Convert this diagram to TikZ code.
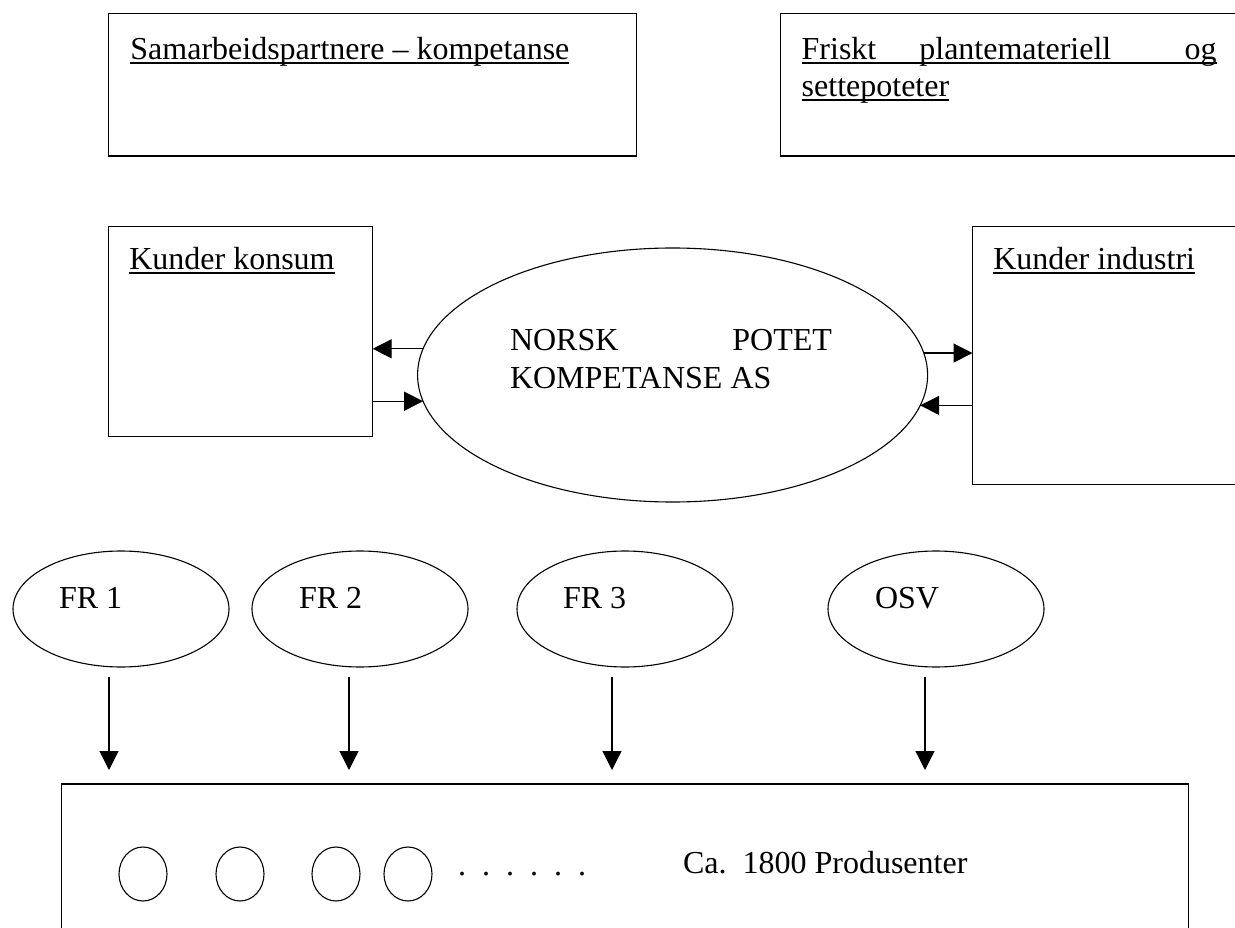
\documentclass[tikz,border=0pt]{standalone}
\usepackage{fontspec}
\setmainfont{Liberation Serif}
\usetikzlibrary{shapes.geometric,arrows.meta,calc}
\newcommand\ulx[1]{\setbox0=\hbox{#1}\rlap{\rule[-3.6pt]{\wd0}{2pt}}\box0}
\begin{document}
\begin{tikzpicture}[x=1pt,y=-1pt,
  box/.style={draw, line width=1.4pt, rectangle, inner sep=0, outer sep=0, anchor=north west},
  oval/.style={draw, line width=1.1pt, ellipse, inner sep=0, outer sep=0},
  lbl/.style={anchor=base west, inner sep=0, outer sep=0, font=\fontsize{32pt}{37pt}\selectfont},
  arr/.style={line width=1.3pt, -{Triangle[length=19pt,width=19pt]}}]
\useasboundingbox (0,0) rectangle (1235,928);
\clip (0,0) rectangle (1235,928);

% top boxes
\node[box, minimum width=528pt, minimum height=142.7pt] (sam) at (108.6,13.3) {};
\node[lbl] (samt) at (130.4,60) {\ulx{Samarbeidspartnere – kompetanse}};

\node[box, minimum width=480pt, minimum height=142.7pt] (fri) at (780.7,13.3) {};
\node[lbl] (frit1) at (801.7,60) {\ulx{\hbox to 415pt{Friskt\hskip 43pt plantemateriell\hfill og}}};
\node[lbl] (frit2) at (801.7,97) {\ulx{settepoteter}};

% customer boxes
\node[box, minimum width=264.1pt, minimum height=210pt] (kk) at (108.6,226.7) {};
\node[lbl] (kkt) at (129.3,270) {\ulx{Kunder konsum}};
\node[box, minimum width=300pt, minimum height=257.6pt] (ki) at (972.5,226.7) {};
\node[lbl] (kit) at (993.3,270) {\ulx{Kunder industri}};

% central ellipse
\node[oval, minimum width=510pt, minimum height=254pt] (np) at (672.6,375) {};
\node[lbl] (npt1) at (510,350) {\hbox to 322pt{NORSK\hfill POTET}};
\node[lbl] (npt2) at (510,388) {KOMPETANSE AS};

\draw[arr] (np.174.76) -- (kk.east |- np.174.76);
\draw[arr] (kk.east |- np.186.42) -- (np.186.42);
\draw[arr] (np.5.24) -- (ki.west |- np.5.24);
\draw[arr] (ki.west |- np.353.58) -- (np.353.58);

% FR ellipses
\node[oval, minimum width=216pt, minimum height=116pt] (fr1) at (121,609) {};
\node[oval, minimum width=216pt, minimum height=116pt] (fr2) at (360,609) {};
\node[oval, minimum width=216pt, minimum height=116pt] (fr3) at (625,609) {};
\node[oval, minimum width=216pt, minimum height=116pt] (osv) at (936,609) {};
\node[lbl] (fr1t) at (59,608) {FR 1};
\node[lbl] (fr2t) at (299,608) {FR 2};
\node[lbl] (fr3t) at (563,608) {FR 3};
\node[lbl] (osvt) at (875,608) {OSV};

% producers box
\node[box, minimum width=1127pt, minimum height=200pt] (prod) at (61.5,784) {};
\node[oval, minimum width=48pt, minimum height=54pt] (c1) at (143,874) {};
\node[oval, minimum width=48pt, minimum height=54pt] (c2) at (240,874) {};
\node[oval, minimum width=48pt, minimum height=54pt] (c3) at (336,874) {};
\node[oval, minimum width=48pt, minimum height=54pt] (c4) at (408,874) {};
\node[lbl] (dots) at (458,875) {.\hskip16pt.\hskip16pt.\hskip16pt.\hskip16pt.\hskip16pt.};
\node[lbl] (ca) at (683,873) {Ca.\ \ 1800 Produsenter};

\draw[arr] ($(fr1.south)+(-12,10)$) -- ($(fr1.south |- prod.north)+(-12,-14)$);
\draw[arr] ($(fr2.south)+(-11,10)$) -- ($(fr2.south |- prod.north)+(-11,-14)$);
\draw[arr] ($(fr3.south)+(-13,10)$) -- ($(fr3.south |- prod.north)+(-13,-14)$);
\draw[arr] ($(osv.south)+(-11,10)$) -- ($(osv.south |- prod.north)+(-11,-14)$);
\end{tikzpicture}
\end{document}
